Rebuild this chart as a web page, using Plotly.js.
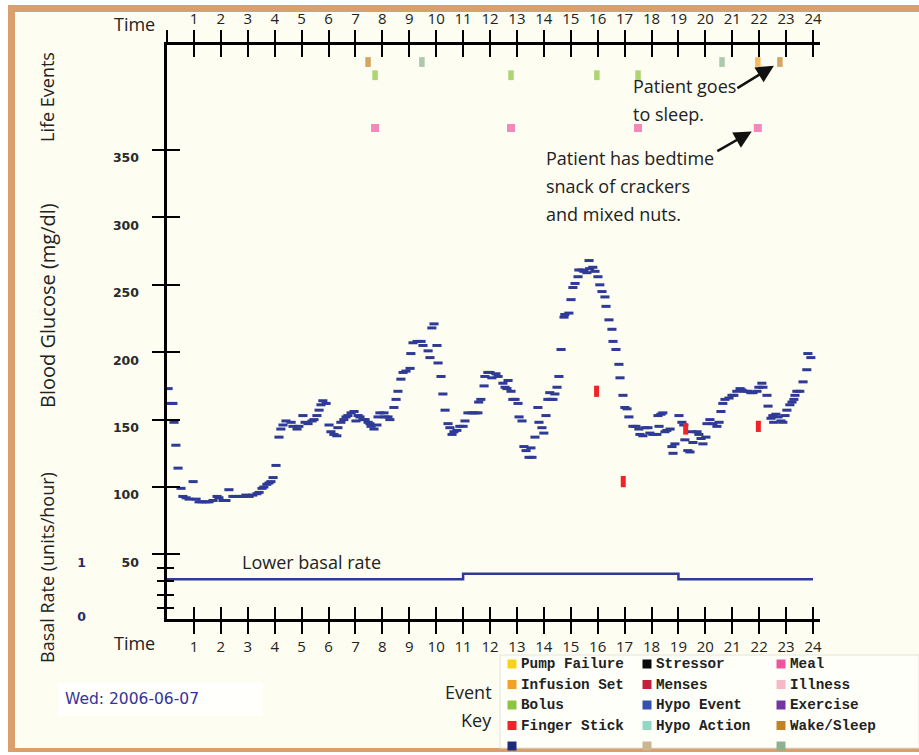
<!DOCTYPE html>
<html><head><meta charset="utf-8">
<script src="https://cdn.plot.ly/plotly-3.0.1.min.js"></script>
<style>html,body{margin:0;padding:0;background:#fdfdf1;}#chart{width:919px;height:755px;}</style>
</head><body><div id="chart"></div>
<script>
// ---------------- DATA ----------------
const hourTicks = [1,2,3,4,5,6,7,8,9,10,11,12,13,14,15,16,17,18,19,20,21,22,23,24];
const glucoseTicks = [50,100,150,200,250,300,350];
const basalTicks = [0,1];

const glucoseTime = [0.04,0.11,0.22,0.26,0.33,0.41,0.52,0.59,0.71,0.82,0.97,1.08,1.19,1.30,1.45,1.56,1.71,1.86,1.93,2.08,2.19,2.30,2.45,2.56,2.67,2.82,2.93,3.05,3.19,3.34,3.42,3.53,3.60,3.71,3.79,3.86,3.94,4.05,4.16,4.23,4.31,4.42,4.61,4.68,4.83,4.90,5.05,5.13,5.24,5.39,5.46,5.57,5.65,5.72,5.79,5.91,6.02,6.09,6.20,6.31,6.35,6.46,6.57,6.65,6.72,6.84,6.95,7.02,7.10,7.17,7.28,7.36,7.47,7.54,7.58,7.69,7.80,7.84,7.91,8.06,8.10,8.21,8.28,8.43,8.51,8.58,8.69,8.77,8.88,9.03,9.06,9.14,9.29,9.44,9.51,9.70,9.77,9.84,9.92,10.03,10.07,10.18,10.25,10.33,10.44,10.51,10.59,10.66,10.77,10.88,11.00,11.07,11.18,11.33,11.44,11.55,11.58,11.66,11.78,11.81,11.92,12.00,12.07,12.22,12.30,12.48,12.56,12.63,12.67,12.78,12.85,12.93,13.04,13.08,13.19,13.26,13.34,13.45,13.52,13.56,13.67,13.78,13.82,13.93,14.00,14.08,14.15,14.22,14.26,14.34,14.41,14.49,14.56,14.64,14.75,14.78,14.93,15.01,15.08,15.16,15.27,15.30,15.42,15.49,15.60,15.68,15.70,15.82,15.90,16.01,16.08,16.16,16.27,16.31,16.42,16.53,16.57,16.68,16.79,16.83,16.94,17.01,17.09,17.16,17.31,17.42,17.53,17.57,17.68,17.76,17.87,17.94,18.05,18.20,18.24,18.28,18.35,18.42,18.50,18.57,18.69,18.76,18.80,18.87,19.02,19.13,19.20,19.24,19.35,19.43,19.50,19.54,19.69,19.76,19.84,19.91,20.02,20.06,20.17,20.28,20.43,20.51,20.58,20.65,20.73,20.88,20.99,21.06,21.17,21.29,21.36,21.47,21.58,21.69,21.77,21.92,21.99,22.10,22.14,22.29,22.33,22.44,22.51,22.54,22.62,22.70,22.81,22.88,22.96,23.03,23.14,23.22,23.29,23.33,23.40,23.51,23.63,23.77,23.81,23.92];
const glucoseValue = [173,162,162,148,131,114,99,93,92,91,104,91,89,89,89,89,90,93,92,90,90,98,93,93,93,93,94,93,94,95,96,99,100,102,103,104,107,116,137,143,146,149,148,145,143,145,153,148,147,149,150,153,157,161,164,162,146,141,139,138,144,148,150,152,153,155,156,149,153,152,150,150,148,147,145,143,146,152,155,155,152,152,150,159,165,171,180,185,186,188,199,207,208,208,205,201,196,218,221,205,192,182,169,157,147,144,139,141,142,145,145,149,155,155,155,155,163,165,175,182,185,185,181,184,182,177,174,173,179,171,165,165,162,152,149,130,127,122,129,122,137,159,148,144,140,153,165,170,165,165,169,174,182,202,226,228,229,239,248,251,256,261,261,260,259,268,262,263,260,256,250,245,241,234,224,217,208,202,191,181,168,159,158,152,145,145,143,139,138,144,144,140,139,139,153,145,154,155,141,142,143,130,125,132,153,148,146,135,127,126,141,133,141,139,136,132,137,147,150,147,145,148,156,162,165,166,168,168,171,173,172,171,171,170,170,171,174,177,174,168,160,151,153,148,154,152,149,148,153,157,161,163,165,168,171,171,178,187,199,196];

const fingerStickTime = [15.96, 16.95, 19.27, 21.97];
const fingerStickValue = [171, 104, 143, 145];

const basalTime = [0, 11, 19, 24];
const basalRate = [0.7, 0.8, 0.7, 0.7];

// life events: time, type
const lifeEventTime = [7.47, 9.47, 20.62, 21.95, 22.77, 7.73, 12.78, 15.97, 17.50, 7.73, 12.78, 17.50, 21.95];
const lifeEventType = ['Wake/Sleep','Other','Other','Infusion Set','Wake/Sleep','Bolus','Bolus','Bolus','Bolus','Meal','Meal','Meal','Meal'];

// event key (3 columns of 5)
const keyLabels = ['Pump Failure','Infusion Set','Bolus','Finger Stick','',
                   'Stressor','Menses','Hypo Event','Hypo Action','',
                   'Meal','Illness','Exercise','Wake/Sleep',''];
const keyColors = ['#f7d21a','#f4a024','#8cc540','#ee2428','#1f2a7a',
                   '#0a0a0a','#c4203c','#3451b2','#93d8c4','#cdb68e',
                   '#f0569f','#f6b8c8','#7335a0','#c08328','#8db38e'];

// ---------------- LAYOUT HELPERS ----------------
const W = 919, H = 755;
const M = {l:167, r:99, t:45, b:136};
const PW = W - M.l - M.r, PH = H - M.t - M.b;
const px = v => (v - M.l) / PW;
const py = v => (M.t + PH - v) / PH;

const typeColor = {};
keyLabels.forEach((l,i)=>{ if(l) typeColor[l]=keyColors[i]; });
typeColor['Other'] = keyColors[14];
const typeLane = {'Wake/Sleep':0,'Infusion Set':0,'Other':0,'Bolus':1,'Meal':5};

const BLUE = '#2e3a96';
const TXT = '#222222';
const sansFont = 'Open Sans, Noto Sans, sans-serif';

// ---------------- TRACES ----------------
const traces = [
  {type:'scatter', mode:'markers', x:glucoseTime, y:glucoseValue, xaxis:'x', yaxis:'y',
   marker:{symbol:'line-ew', size:6.5, color:BLUE, line:{color:BLUE, width:3}}, hoverinfo:'skip'},
  {type:'scatter', mode:'markers', x:fingerStickTime, y:fingerStickValue, xaxis:'x', yaxis:'y',
   marker:{symbol:'line-ns', size:8, color:typeColor['Finger Stick'], line:{color:typeColor['Finger Stick'], width:5}}, hoverinfo:'skip'},
  {type:'scatter', mode:'lines', x:basalTime, y:basalRate, xaxis:'x', yaxis:'y5',
   line:{shape:'hv', color:BLUE, width:2.5}, hoverinfo:'skip'},
  {type:'scatter', mode:'markers', x:lifeEventTime, y:lifeEventType.map(t=>typeLane[t]), xaxis:'x', yaxis:'y6',
   marker:{symbol:lifeEventType.map(t=>t==='Meal'?'square':'line-ns'),
           size:lifeEventType.map(t=>t==='Meal'?8:7),
           color:lifeEventType.map(t=>typeColor[t]),
           line:{color:lifeEventType.map(t=>typeColor[t]), width:lifeEventType.map(t=>t==='Meal'?0:5.5)}},
   hoverinfo:'skip'},
  // empty traces so that the overlay tick/label axes are drawn
  {type:'scatter', mode:'markers', x:[], y:[], xaxis:'x2', yaxis:'y3', hoverinfo:'skip'},
  {type:'scatter', mode:'markers', x:[], y:[], xaxis:'x3', yaxis:'y4', hoverinfo:'skip'},
  {type:'scatter', mode:'markers', x:[], y:[], xaxis:'x4', yaxis:'y4', hoverinfo:'skip'}
];

// ---------------- AXES ----------------
const XR = [0, 24.26];
const YR = [2.08, 427.9];
const tickFont = {family:sansFont, size:15, color:TXT};
const axBase = {showgrid:false, zeroline:false, fixedrange:true};

const layout = {
  width:W, height:H, margin:M, showlegend:false,
  paper_bgcolor:'#fdfdf1', plot_bgcolor:'rgba(0,0,0,0)',
  xaxis: Object.assign({}, axBase, {range:XR, anchor:'y', side:'bottom', showline:true, linewidth:3, linecolor:'#000',
          tickmode:'array', tickvals:hourTicks, ticks:'outside', ticklen:12, tickwidth:2, tickcolor:'#000', tickfont:tickFont}),
  xaxis3: Object.assign({}, axBase, {range:XR, overlaying:'x', anchor:'y', side:'bottom', showline:false,
          tickmode:'array', tickvals:hourTicks, ticks:'inside', ticklen:12, tickwidth:2, tickcolor:'#000', showticklabels:false}),
  xaxis2: Object.assign({}, axBase, {range:XR, overlaying:'x', anchor:'y', side:'top', showline:true, linewidth:3, linecolor:'#000',
          tickmode:'array', tickvals:[0].concat(hourTicks), ticktext:[''].concat(hourTicks.map(String)),
          ticks:'outside', ticklen:12, tickwidth:2, tickcolor:'#000', tickfont:tickFont}),
  xaxis4: Object.assign({}, axBase, {range:XR, overlaying:'x', anchor:'y', side:'top', showline:false,
          tickmode:'array', tickvals:hourTicks, ticks:'inside', ticklen:12, tickwidth:2, tickcolor:'#000', showticklabels:false}),
  yaxis: Object.assign({}, axBase, {range:YR, anchor:'x', side:'left', showline:true, linewidth:3, linecolor:'#000',
          tickmode:'array', tickvals:glucoseTicks, ticks:'outside', ticklen:12, tickwidth:2, tickcolor:'#000', showticklabels:false,
          minor:{tickmode:'array', tickvals:[10,20,30,40], ticks:'outside', ticklen:7, tickwidth:2, tickcolor:'#000'}}),
  yaxis3: Object.assign({}, axBase, {range:YR, overlaying:'y', anchor:'x', side:'left', showline:false,
          tickmode:'array', tickvals:glucoseTicks, ticks:'inside', ticklen:13, tickwidth:2, tickcolor:'#000', showticklabels:false,
          minor:{tickmode:'array', tickvals:[10,20,30,40], ticks:'inside', ticklen:7, tickwidth:2, tickcolor:'#000'}}),
  yaxis4: Object.assign({}, axBase, {range:[YR[0]+5.9, YR[1]+5.9], overlaying:'y', anchor:'x', side:'left', showline:false,
          tickmode:'array', tickvals:glucoseTicks, ticks:'', ticklabelstandoff:27,
          tickfont:{family:'DejaVu Sans, sans-serif', size:12.5, color:'#2a2a2a', weight:'bold'}}),
  yaxis5: Object.assign({}, axBase, {range:[-0.037, 10.59], overlaying:'y', anchor:'x', side:'left', showline:false,
          tickmode:'array', tickvals:basalTicks, ticks:'', ticklabelstandoff:80,
          tickfont:{family:'DejaVu Sans, sans-serif', size:12.5, color:'#2a2a6a', weight:'bold'}}),
  yaxis6: Object.assign({}, axBase, {range:[42.2, -1.29], overlaying:'y', anchor:'x', side:'left', showline:false,
          showticklabels:false, ticks:''}),
  shapes:[], annotations:[]
};

// ---------------- FRAME / BACKGROUND SHAPES ----------------
const TAN = '#d99f6c';
function rectPx(x0,y0,x1,y1,fill,line){
  layout.shapes.push({type:'rect', xref:'paper', yref:'paper', x0:px(x0), x1:px(x1), y0:py(y1), y1:py(y0),
    fillcolor:fill, line:line||{width:0}, layer:'below'});
}
rectPx(0,0,W,5,'#ffffff');
rectPx(0,0,8,H,'#ffffff');
rectPx(8,5,W,12,TAN);
rectPx(8,5,15,752,TAN);
rectPx(8,748,W,752,TAN);
rectPx(8,752,W,H,'#ffffff');
rectPx(58,683,263,716,'#fffffb');
rectPx(500,655,W,748,'#fffffa',{color:'#e4e4da', width:1});

// ---------------- TEXT ----------------
function ann(text,x,y,opts){
  layout.annotations.push(Object.assign({text:text, xref:'paper', yref:'paper', x:px(x), y:py(y),
    showarrow:false, xanchor:'left', yanchor:'middle', font:{family:sansFont, size:18, color:TXT}}, opts||{}));
}
ann('Time',157,24,{xanchor:'right'});
ann('Time',157,643,{xanchor:'right'});
ann('Life Events',47,97,{xanchor:'center', textangle:-90});
ann('Blood Glucose (mg/dl)',47,306,{xanchor:'center', textangle:-90, font:{family:sansFont, size:20, color:TXT}});
ann('Basal Rate (units/hour)',47,568,{xanchor:'center', textangle:-90});
ann('Lower basal rate',240,562);
ann('Patient goes',631,86);
ann('to sleep.',631,114);
ann('Patient has bedtime',544,158);
ann('snack of crackers',544,186);
ann('and mixed nuts.',544,214);
ann('Event',494,692,{xanchor:'right'});
ann('Key',494,720,{xanchor:'right'});
ann('Wed: 2006-06-07',63,699,{font:{family:'DejaVu Sans, sans-serif', size:15.5, color:'#34349a'}});

// arrows pointing at the sleep marker and the bedtime snack marker
layout.annotations.push({text:'', xref:'x', yref:'y6', x:lifeEventTime[4], y:typeLane['Wake/Sleep'],
  showarrow:true, arrowhead:2, arrowsize:1.4, arrowwidth:2.5, arrowcolor:'#111', standoff:7, ax:-44, ay:27, axref:'pixel', ayref:'pixel'});
layout.annotations.push({text:'', xref:'x', yref:'y6', x:lifeEventTime[12], y:typeLane['Meal'],
  showarrow:true, arrowhead:2, arrowsize:1.4, arrowwidth:2.5, arrowcolor:'#111', standoff:7, ax:-42, ay:24, axref:'pixel', ayref:'pixel'});

// event key
const colX = [512, 647, 781];
keyLabels.forEach((lab,i)=>{
  const c = Math.floor(i/5), r = i%5;
  const cx = colX[c], cy = 664 + r*20.5;
  rectPx(cx-4.5, cy-4.5, cx+4.5, cy+4.5, keyColors[i]);
  layout.shapes[layout.shapes.length-1].layer = 'above';
  if (lab) ann(lab, cx+7, cy, {font:{family:'Liberation Mono, Courier New, monospace', size:14.3, color:'#222', weight:'bold'}});
});

Plotly.newPlot('chart', traces, layout, {staticPlot:true, displayModeBar:false});
</script></body></html>
